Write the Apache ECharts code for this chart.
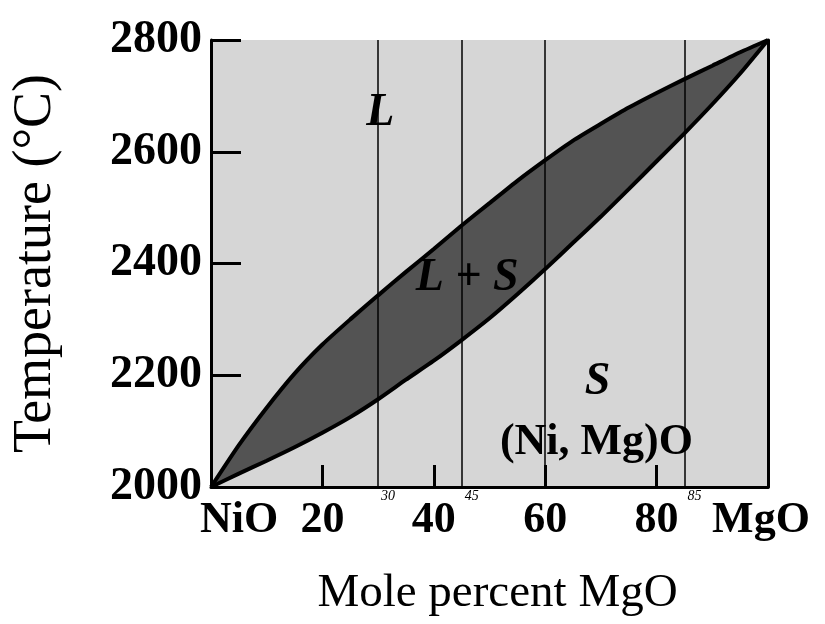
<!DOCTYPE html>
<html>
<head>
<meta charset="utf-8">
<script src="https://cdn.jsdelivr.net/npm/echarts@6/dist/echarts.min.js"></script>
<style>
  html, body { margin: 0; padding: 0; background: #fff; }
  #chart { width: 825px; height: 624px; }
</style>
</head>
<body>
<div id="chart"></div>
<script>
// mole percent MgO
const composition = [0, 5, 10, 15, 20, 25, 30, 35, 40, 45, 50, 55, 60, 65, 70, 75, 80, 85, 90, 95, 100];
// liquidus (upper boundary), deg C
const liquidus = [2000, 2075, 2142, 2203, 2255, 2300, 2343, 2385, 2426, 2468, 2508, 2548, 2585, 2620, 2650, 2679, 2705, 2730, 2754, 2778, 2800];
// solidus (lower boundary), deg C
const solidus = [2000, 2024, 2047, 2071, 2097, 2125, 2157, 2192, 2226, 2263, 2302, 2345, 2390, 2437, 2484, 2533, 2583, 2633, 2685, 2740, 2800];

const xTicks = [0, 20, 40, 60, 80, 100];
const xTickLabels = ['NiO', '20', '40', '60', '80', 'MgO'];

// hand-drawn composition lines
const markedCompositions = [30, 45, 60, 85];
const markedNotes = ['30', '45', '', '85'];

// phase-region labels: [x, T, text]
const regionLabels = [
  [30.4, 2669, 'L'],
  [46, 2374, 'L + S'],
  [69.4, 2188, 'S'],
  [69.2, 2079, '(Ni, Mg)O']
];

const serif = 'Liberation Serif';
const plotBg = '#d6d6d6';
const chart = echarts.init(document.getElementById('chart'));

const liquidusData = composition.map((x, i) => [x, liquidus[i]]);
const solidusData = composition.map((x, i) => [x, solidus[i]]);

const option = {
  animation: false,
  grid: {
    left: 211, right: 57, top: 40, bottom: 137,
    show: true, backgroundColor: plotBg, borderWidth: 0,
    outerBoundsMode: 'none'
  },
  xAxis: {
    type: 'value', min: 0, max: 100, interval: 20, z: 10,
    name: 'Mole percent MgO', nameLocation: 'middle', nameGap: 83,
    nameTextStyle: { fontFamily: serif, fontSize: 47, color: '#000', padding: [0, 0, 0, 16] },
    axisLine: { lineStyle: { color: '#000', width: 3 } },
    axisTick: { inside: true, length: 22, lineStyle: { color: '#000', width: 3 } },
    axisLabel: {
      margin: 12, color: '#000',
      fontFamily: serif, fontWeight: 'bold', fontSize: 44,
      formatter: (v) => {
        const i = xTicks.indexOf(v);
        if (i === 0) return '{l|' + xTickLabels[i] + '}';
        if (i === xTicks.length - 1) return '{r|' + xTickLabels[i] + '}';
        return i >= 0 ? xTickLabels[i] : '';
      },
      rich: {
        l: { fontFamily: serif, fontWeight: 'bold', fontSize: 44, color: '#000', padding: [0, 0, 0, 56] },
        r: { fontFamily: serif, fontWeight: 'bold', fontSize: 44, color: '#000', padding: [0, 14, 0, 0] }
      }
    },
    splitLine: { show: false }
  },
  yAxis: [
    {
      type: 'value', min: 2000, max: 2800, interval: 200, z: 10,
      name: 'Temperature (°C)', nameLocation: 'middle', nameGap: 148,
      nameTextStyle: { fontFamily: serif, fontSize: 54, color: '#000' },
      axisLine: { show: true, lineStyle: { color: '#000', width: 3 } },
      axisTick: { inside: true, length: 30, lineStyle: { color: '#000', width: 3 } },
      axisLabel: {
        margin: 9, color: '#000', fontFamily: serif, fontWeight: 'bold', fontSize: 46,
        formatter: (v) => String(v)
      },
      splitLine: { show: false }
    },
    {
      type: 'value', min: 2000, max: 2800, position: 'right', z: 10,
      axisLine: { show: true, lineStyle: { color: '#000', width: 3 } },
      axisTick: { show: false }, axisLabel: { show: false }, splitLine: { show: false }
    }
  ],
  series: [
    {
      // dark two-phase region: fill under the liquidus
      name: 'liquidus fill', type: 'line', data: liquidusData,
      smooth: 0.2, symbol: 'none', z: 2,
      lineStyle: { width: 0 },
      areaStyle: { color: '#535353', opacity: 1, origin: 'start' }
    },
    {
      // solid region: cover everything under the solidus again
      name: 'solidus', type: 'line', data: solidusData,
      smooth: 0.2, symbol: 'none', z: 3,
      lineStyle: { color: '#000', width: 4 },
      areaStyle: { color: plotBg, opacity: 1, origin: 'start' },
      markLine: {
        symbol: 'none', silent: true,
        lineStyle: { color: '#000', width: 1.5, type: 'solid' },
        label: {
          show: true, position: 'start', distance: 2,
          fontFamily: serif, fontStyle: 'italic', fontSize: 14, color: '#000',
          offset: [10, 0],
          formatter: (p) => markedNotes[markedCompositions.indexOf(p.value)]
        },
        data: markedCompositions.map((x) => ({ xAxis: x }))
      }
    },
    {
      name: 'liquidus', type: 'line', data: liquidusData,
      smooth: 0.2, symbol: 'none', z: 4,
      lineStyle: { color: '#000', width: 4 }
    },
    {
      name: 'regions', type: 'scatter', z: 6,
      symbolSize: 1, itemStyle: { color: 'transparent', opacity: 1 },
      data: regionLabels.map((d) => ({ value: [d[0], d[1]], name: d[2] })),
      label: {
        show: true, position: 'inside', color: '#000', opacity: 1,
        formatter: (p) => p.name,
        fontFamily: serif, fontWeight: 'bold', fontSize: 46, fontStyle: 'italic'
      },
      labelLayout: { hideOverlap: false }
    }
  ]
};

// the composition label is upright, the phase symbols are italic
option.series[3].data[3].label = { fontStyle: 'normal', fontSize: 44 };

chart.setOption(option);
</script>
</body>
</html>
